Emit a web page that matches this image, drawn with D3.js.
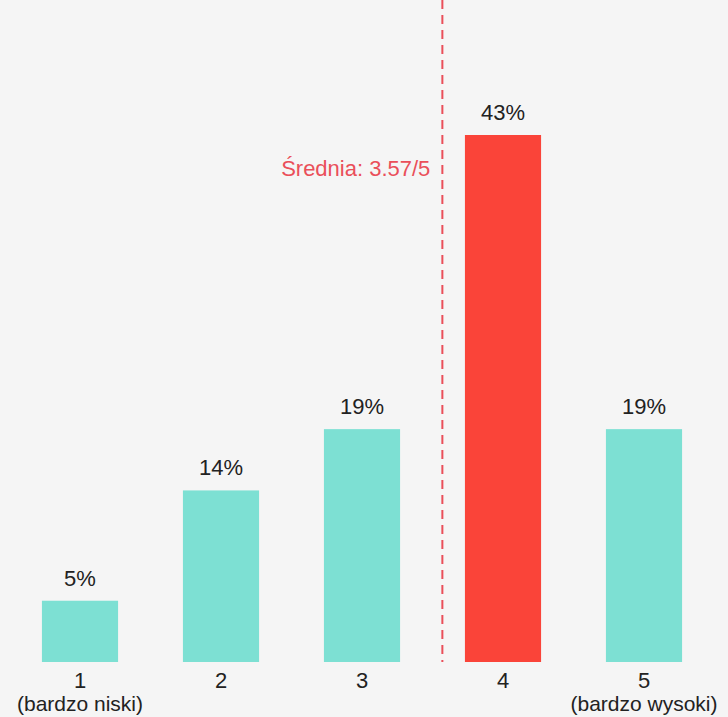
<!DOCTYPE html>
<html>
<head>
<meta charset="utf-8">
<script src="https://cdn.jsdelivr.net/npm/d3@7"></script>
<style>
  html, body { margin: 0; padding: 0; background: #f5f5f5; }
  svg { display: block; font-family: "Liberation Sans", Arial, sans-serif; }
</style>
</head>
<body>
<svg id="chart" width="728" height="717"></svg>
<script>
// Rating distribution (percent of answers per score)
const categories = ["1", "2", "3", "4", "5"];
const subLabels = ["(bardzo niski)", "", "", "", "(bardzo wysoki)"];
const values = [5, 14, 19, 43, 19];
const highlight = "4";
const meanValue = 3.57;
const meanLabel = "Średnia: 3.57/5";

const width = 728, height = 717;
const baseline = 662;
const fontFamily = "Liberation Sans, Arial, sans-serif";

const svg = d3.select("#chart");
svg.append("rect").attr("width", width).attr("height", height).attr("fill", "#f5f5f5");

const x = d3.scaleBand()
  .domain(categories)
  .range([9.5, 714.5])
  .paddingInner(0.46)
  .paddingOuter(0.23);

const y = d3.scaleLinear()
  .domain([0, 43])
  .range([baseline, 135]);

const rows = categories.map((c, i) => ({ c, v: values[i] }));

// Bars
svg.append("g").selectAll("rect")
  .data(rows)
  .join("rect")
  .attr("x", d => x(d.c))
  .attr("y", d => y(d.v))
  .attr("width", x.bandwidth())
  .attr("height", d => y(0) - y(d.v))
  .attr("fill", d => d.c === highlight ? "#fa4439" : "#7de0d3");

// Value labels
svg.append("g").selectAll("text")
  .data(rows)
  .join("text")
  .attr("x", d => x(d.c) + x.bandwidth() / 2)
  .attr("y", d => y(d.v) - 15)
  .attr("text-anchor", "middle")
  .attr("font-size", 22)
  .attr("fill", "#222")
  .text(d => d.v + "%");

// Category axis
const xAxis = d3.axisBottom(x).tickSize(0).tickPadding(10);
const gx = svg.append("g")
  .attr("transform", `translate(0,${baseline})`)
  .call(xAxis);
gx.select(".domain").remove();
gx.selectAll(".tick text")
  .attr("font-size", 22)
  .attr("fill", "#222")
  .attr("font-family", fontFamily)
  .each(function(d, i) {
    const sub = subLabels[i];
    if (sub) {
      d3.select(this.parentNode).append("text")
        .attr("y", 49)
        .attr("text-anchor", "middle")
        .attr("font-size", 21)
        .attr("fill", "#222")
        .attr("font-family", fontFamily)
        .text(sub);
    }
  });

// Mean marker: linear position between category centres
const centers = categories.map(c => x(c) + x.bandwidth() / 2);
const xMean = d3.scaleLinear().domain([1, 5]).range([centers[0], centers[4]]);
const mx = xMean(meanValue);

svg.append("line")
  .attr("x1", mx).attr("x2", mx)
  .attr("y1", 0).attr("y2", baseline)
  .attr("stroke", "#ea4f5a")
  .attr("stroke-width", 2)
  .attr("stroke-dasharray", "9,6");

svg.append("text")
  .attr("x", mx - 12)
  .attr("y", 176)
  .attr("text-anchor", "end")
  .attr("font-size", 22)
  .attr("fill", "#ea4f5a")
  .text(meanLabel);
</script>
</body>
</html>
